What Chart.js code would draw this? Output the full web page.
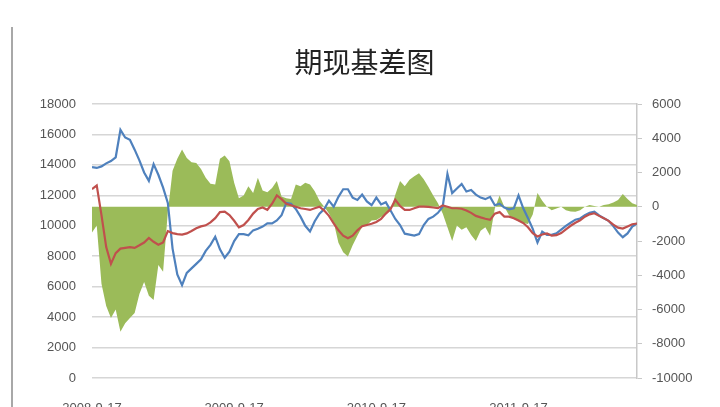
<!DOCTYPE html>
<html>
<head>
<meta charset="utf-8">
<script src="https://cdn.jsdelivr.net/npm/chart.js@4.4.1/dist/chart.umd.min.js"></script>
<style>
  body { margin: 0; background: #fff; }
  #wrap { position: relative; width: 720px; height: 407px; overflow: hidden; }
  #edge { position: absolute; left: 11px; top: 27px; width: 2px; height: 380px; background: #a8a8a8; }
  canvas { position: absolute; left: 0; top: 0; }
</style>
</head>
<body>
<div id="wrap">
  <canvas id="basisChart" width="720" height="407"></canvas>
  <div id="edge"></div>
</div>
<script>
// x axis: one point every 1/30 year, starting 2008-9-17
const pointsPerYear = 30;
const tickLabels = ["2008-9-17", "2009-9-17", "2010-9-17", "2011-9-17"];

// futures price (blue, left axis)
const futures = [
  13850, 13800, 13900, 14100, 14250, 14500, 16300, 15800, 15650, 15000,
  14300, 13500, 12950, 14050, 13350, 12500, 11500, 8500, 6800, 6100,
  6900, 7200, 7500, 7800, 8350, 8750, 9280, 8450, 7900, 8300,
  9000, 9450, 9450, 9380, 9700, 9800, 9950, 10160, 10160, 10350,
  10700, 11500, 11450, 11100, 10600, 10000, 9620, 10300, 10800, 11100,
  11650, 11250, 11900, 12400, 12400, 11850, 11700, 12050, 11600, 11350,
  11850, 11400, 11550, 11000, 10450, 10050, 9480, 9420, 9350, 9450,
  10050, 10450, 10600, 10850, 11250, 13400, 12150, 12450, 12750, 12250,
  12350, 12050, 11850, 11750, 11900, 11350, 11450, 11200, 11080, 11150,
  12000, 11150, 10500, 9800, 8900, 9610, 9400, 9400, 9500, 9750,
  10000, 10200, 10400, 10480, 10700, 10850, 10930, 10680, 10500, 10330,
  9980, 9550, 9250, 9500, 9950, 10150
];

// spot price (red, left axis)
const spot = [
  12400, 12650, 10700, 8600, 7500, 8200, 8500, 8550, 8600, 8550,
  8720, 8900, 9200, 8950, 8760, 8900, 9650, 9520, 9450, 9420,
  9500, 9660, 9840, 9960, 10030, 10220, 10500, 10900, 10930, 10700,
  10330, 9900, 10050, 10380, 10800, 11100, 11200, 11050, 11450, 12000,
  11750, 11450, 11350, 11250, 11150, 11100, 11040, 11150, 11250, 11000,
  10650, 10160, 9700, 9350, 9180, 9350, 9700, 9970, 10050, 10130,
  10250, 10450, 10800, 11100, 11700, 11300, 11040, 11040, 11150, 11260,
  11260, 11240, 11200, 11160, 11340, 11250, 11150, 11150, 11120, 11000,
  10850, 10650, 10550, 10460, 10390, 10800, 10900, 10600, 10600, 10500,
  10350, 10180, 9900, 9520, 9300, 9430, 9500, 9350, 9380, 9520,
  9770, 10000, 10200, 10360, 10600, 10750, 10820, 10650, 10500, 10320,
  10080, 9880, 9820, 9960, 10100, 10150
];

// basis (green area, right axis)
const basis = [
  -1500, -1100, -4500, -5800, -6500, -6000, -7300, -6800, -6500, -6200,
  -5100, -4400, -5200, -5450, -3400, -3800, -300, 2100, 2800, 3350,
  2850, 2600, 2550, 2200, 1700, 1350, 1300, 2800, 3000, 2650,
  1400, 500, 650, 1200, 800, 1700, 950, 850, 1100, 1500,
  600, 500, 450, 1300, 1200, 1400, 1300, 900, 350, 0,
  -400, -900, -2100, -2650, -2900, -2250, -1700, -1170, -1080, -800,
  -770, -600, -420, -250, 700, 1500, 1200, 1580, 1780, 1950,
  1600, 1150, 650, 200, -400, -1200, -2000, -1100, -1350, -1200,
  -1650, -2000, -1400, -1200, -1700, -100, 650, 0, -500, -700,
  -850, -950, -1000, -450, 800, 350, 0, -200, -100, 0,
  -200, -280, -290, -200, 0, 100, 50, 0, 100, 150,
  250, 400, 750, 450, 200, 100
];

const toPoints = arr => arr.map((v, i) => ({ x: i, y: v }));
const tickFont = { family: "'Liberation Sans', Arial, sans-serif", size: 13 };
const plain = v => String(v);

const ctx = document.getElementById("basisChart").getContext("2d");
const chart = new Chart(ctx, {
  type: "line",
  data: {
    datasets: [
      {
        label: "现货",
        data: toPoints(spot),
        yAxisID: "y",
        borderColor: "#C0504D",
        borderWidth: 2.2,
        pointRadius: 0,
        tension: 0,
        fill: false,
        order: 1
      },
      {
        label: "期货",
        data: toPoints(futures),
        yAxisID: "y",
        borderColor: "#4F81BD",
        borderWidth: 2.2,
        pointRadius: 0,
        tension: 0,
        fill: false,
        order: 2
      },
      {
        label: "基差",
        data: toPoints(basis),
        yAxisID: "y1",
        borderWidth: 0,
        borderColor: "#9BBB59",
        backgroundColor: "#9BBB59",
        pointRadius: 0,
        tension: 0,
        fill: "origin",
        order: 3
      }
    ]
  },
  options: {
    responsive: false,
    animation: false,
    layout: { padding: { top: 0, left: 0, right: 0, bottom: 0 } },
    plugins: {
      legend: { display: false },
      tooltip: { enabled: false },
      title: {
        display: true,
        text: "期现基差图",
        fullSize: false,
        color: "#222",
        font: { family: "'Noto Sans CJK SC', sans-serif", size: 28, weight: "normal", lineHeight: 1.2 },
        padding: { top: 46, bottom: 24.4 }
      }
    },
    scales: {
      x: {
        type: "linear",
        min: 0,
        max: futures.length - 1,
        grid: { display: false, drawTicks: false },
        border: { display: false },
        ticks: {
          stepSize: pointsPerYear,
          includeBounds: false,
          autoSkip: false,
          maxRotation: 0,
          padding: 23,
          color: "#555",
          font: tickFont,
          callback: v => tickLabels[v / pointsPerYear] || ""
        },
        afterFit: s => { s.height = 29; }
      },
      y: {
        position: "left",
        min: 0,
        max: 18000,
        grid: { color: "#d6d6d6", lineWidth: 1.6, drawTicks: false },
        border: { display: false },
        ticks: { stepSize: 2000, padding: 16, color: "#555", font: tickFont, callback: plain },
        afterFit: s => { s.width = 92; }
      },
      y1: {
        position: "right",
        min: -10000,
        max: 6000,
        grid: { drawOnChartArea: false, drawTicks: true, tickLength: 5, color: "#c8c8c8" },
        border: { display: true, color: "#c8c8c8", width: 1.5 },
        ticks: { stepSize: 2000, padding: 10, color: "#555", font: tickFont, callback: plain },
        afterFit: s => { s.width = 83; }
      }
    }
  }
});
</script>
</body>
</html>
